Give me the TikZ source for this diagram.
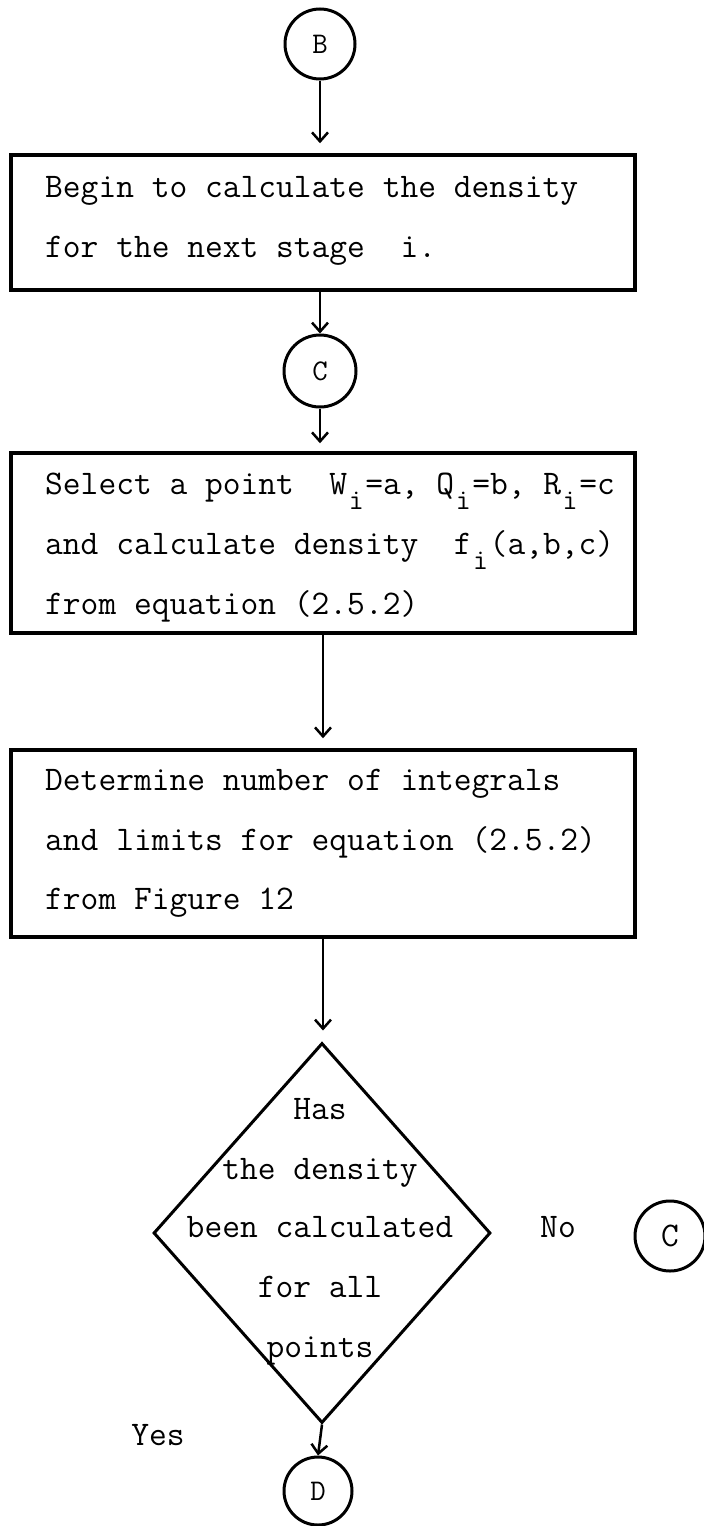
\documentclass[tikz,border=0pt]{standalone}
\usepackage{fontspec}
\usetikzlibrary{shapes.geometric,arrows.meta}
\newcommand{\twfont}{\ttfamily\addfontfeatures{FakeBold=2}}
\newcommand{\txtfont}{\twfont\fontsize{34.5}{40}\selectfont}
\newcommand{\lblfont}{\twfont\fontsize{30}{36}\selectfont}
\newcommand{\dnsub}[1]{\raisebox{-0.45em}{\makebox[0.525em]{\fontsize{29}{29}\selectfont #1}}}
\tikzset{
  procbox/.style={draw, line width=3.5pt, minimum width=624pt, inner sep=0pt},
  conn/.style={draw, circle, line width=3pt, minimum size=70pt, inner sep=0pt, font=\lblfont},
  decis/.style={draw, diamond, line width=3pt, minimum width=337pt, minimum height=380pt, inner sep=0pt},
  txt/.style={anchor=mid west, inner sep=0pt, font=\txtfont},
  ctxt/.style={anchor=mid, inner sep=0pt, font=\txtfont},
  flow/.style={line width=2.5pt, -{Straight Barb[length=9pt,width=16pt,line width=2.5pt]}}
}
\begin{document}
\begin{tikzpicture}[x=1pt,y=-1pt]
\useasboundingbox (0,0) rectangle (704,1526);
\fill[white] (0,0) rectangle (704,1526);
% connectors / boxes
\node[conn] (B) at (320,44) {B};
\node[procbox, minimum height=135pt] (box1) at (323,222.5) {};
\node[txt] (t1a) at (45,195) {Begin to calculate the density};
\node[txt] (t1b) at (45,255) {for the next stage~~i.};
\node[conn, minimum size=72pt] (C) at (320,371) {C};
\node[procbox, minimum height=180pt] (box2) at (323,543) {};
\node[txt] (t2a) at (45,492) {Select a point~~W\dnsub{i}=a, Q\dnsub{i}=b, R\dnsub{i}=c};
\node[txt] (t2b) at (45,552) {and calculate density~~f\dnsub{i}(a,b,c)};
\node[txt] (t2c) at (45,612) {from equation (2.5.2)};
\node[procbox, minimum height=187pt] (box3) at (323,843.5) {};
\node[txt] (t3a) at (45,788) {Determine number of integrals};
\node[txt] (t3b) at (45,848) {and limits for equation (2.5.2)};
\node[txt] (t3c) at (45,907) {from Figure 12};
\node[decis] (dec) at (322,1233) {};
\node[ctxt] (d1) at (320,1117) {Has};
\node[ctxt] (d2) at (320,1177) {the density};
\node[ctxt] (d3) at (320,1235) {been calculated};
\node[ctxt] (d4) at (320,1295) {for all};
\node[ctxt] (d5) at (320,1355) {points};
\node[ctxt] (no) at (558,1235) {No};
\node[conn, font=\txtfont] (C2) at (670,1236) {C};
\node[ctxt] (yes) at (158,1443) {Yes};
\node[conn, minimum size=68pt] (D) at (318,1491) {D};
% arrows
\draw[flow, shorten >=10pt] (B.south) -- (B.south |- box1.north);
\draw[flow] (C.north |- box1.south) -- (C.north);
\draw[flow, shorten >=8pt] (C.south) -- (C.south |- box2.north);
\draw[flow, shorten >=10pt] (box2.south) -- (box3.north);
\draw[flow, shorten >=11pt] (box3.south) -- (dec.north -| box3.south);
\draw[flow] (dec.south) -- (D.north);
\end{tikzpicture}
\end{document}
